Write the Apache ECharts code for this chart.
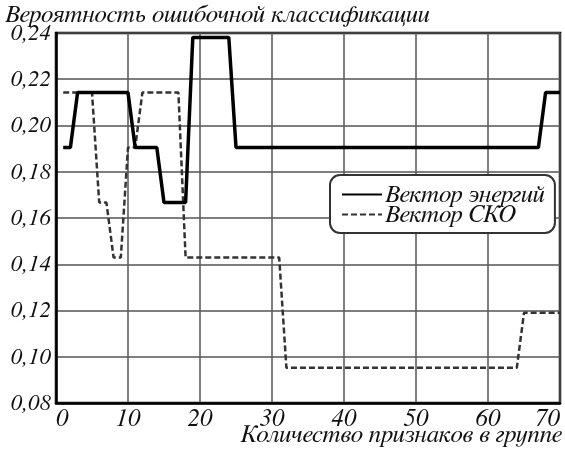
<!DOCTYPE html>
<html>
<head>
<meta charset="utf-8">
<script src="https://cdn.jsdelivr.net/npm/echarts@6/dist/echarts.min.js"></script>
<style>
  html, body { margin: 0; padding: 0; background: #fff; }
  #chart { width: 565px; height: 449px; }
</style>
</head>
<body>
<div id="chart"></div>
<script>
// breakpoints of the two curves (x = number of features in group)
var energyX = [1, 2, 3, 10, 11, 14, 15, 18, 19, 24, 25, 67, 68, 70]
var energyY = [0.1905, 0.1905, 0.2143, 0.2143, 0.1905, 0.1905, 0.1667, 0.1667, 0.2381, 0.2381, 0.1905, 0.1905, 0.2143, 0.2143]

var skoX = [1, 5, 6, 7, 8, 9, 10, 11, 12, 17, 18, 31, 32, 64, 65, 70]
var skoY = [0.2143, 0.2143, 0.1667, 0.1667, 0.1429, 0.1429, 0.1905, 0.1905, 0.2143, 0.2143, 0.1429, 0.1429, 0.0952, 0.0952, 0.1190, 0.1190]

var seriesNames = ['Вектор энергий', 'Вектор СКО']
var titleText = 'Вероятность ошибочной классификации'
var xName = 'Количество признаков в группе'

function pairs(xs, ys) {
  return xs.map(function (x, i) { return [x, ys[i]] })
}

var serif = "FreeSerif, 'Liberation Serif', serif"
var chart = echarts.init(document.getElementById('chart'))
chart.setOption({
  animation: false,
  backgroundColor: '#fff',
  title: [
    {
      text: titleText,
      left: 5,
      top: 2,
      padding: 0,
      textStyle: { fontFamily: serif, fontStyle: 'italic', fontWeight: 'normal', fontSize: 25, color: '#111' }
    },
    {
      text: xName,
      right: 3,
      top: 422,
      padding: 0,
      textStyle: { fontFamily: serif, fontStyle: 'italic', fontWeight: 'normal', fontSize: 25, color: '#111' }
    }
  ],
  grid: {
    left: 56,
    right: 5,
    top: 33,
    bottom: 46,
    outerBoundsMode: 'none',
    show: true,
    borderColor: '#000',
    borderWidth: 2.5,
    backgroundColor: '#fff'
  },
  legend: {
    orient: 'vertical',
    left: 330,
    top: 175,
    padding: [7, 10, 6, 11],
    itemGap: -5,
    itemWidth: 40,
    itemHeight: 16,
    itemStyle: { opacity: 0 },
    backgroundColor: '#fff',
    borderColor: '#333',
    borderWidth: 2,
    borderRadius: 10,
    textStyle: { fontFamily: serif, fontStyle: 'italic', fontSize: 25, lineHeight: 20, color: '#111', padding: [0, 0, 0, -2] },
    data: seriesNames
  },
  xAxis: {
    type: 'value',
    min: 0,
    max: 70,
    interval: 10,
    axisLine: { lineStyle: { color: '#000', width: 2.5 } },
    axisTick: { show: false },
    axisLabel: {
      fontFamily: serif, fontStyle: 'italic', fontSize: 25, color: '#111', margin: 3,
      alignMinLabel: 'left', alignMaxLabel: 'right'
    },
    splitLine: { lineStyle: { color: '#555', width: 1.5 } }
  },
  yAxis: {
    type: 'value',
    min: 0.08,
    max: 0.24,
    interval: 0.02,
    axisLine: { show: true, lineStyle: { color: '#000', width: 2.5 } },
    axisTick: { show: false },
    axisLabel: {
      fontFamily: serif, fontStyle: 'italic', fontSize: 23, color: '#111', margin: 5,
      formatter: function (v) { return v.toFixed(2).replace('.', ',') }
    },
    splitLine: { lineStyle: { color: '#555', width: 1.5 } }
  },
  series: [
    {
      name: seriesNames[0],
      type: 'line',
      symbol: 'none',
      data: pairs(energyX, energyY),
      lineStyle: { color: '#000', width: 3.5 },
      itemStyle: { color: '#000' },
      z: 3
    },
    {
      name: seriesNames[1],
      type: 'line',
      symbol: 'none',
      data: pairs(skoX, skoY),
      lineStyle: { color: '#333', width: 2.5, type: [6, 3] },
      itemStyle: { color: '#333' },
      z: 2
    }
  ]
})
</script>
</body>
</html>
